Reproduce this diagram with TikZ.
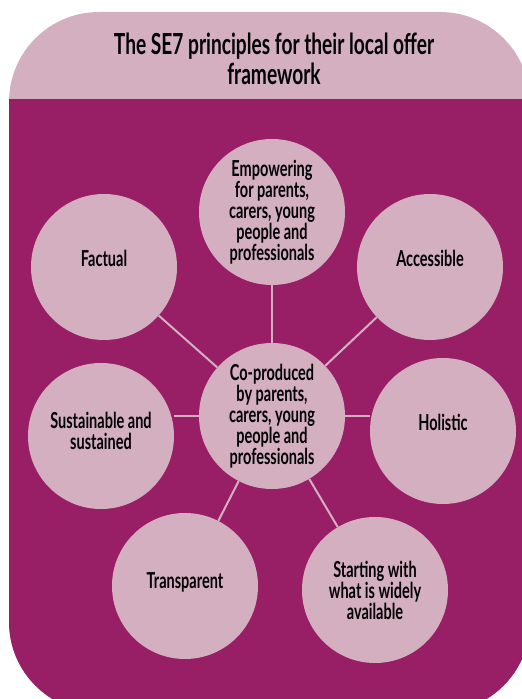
\documentclass[tikz,border=0pt]{standalone}
\usepackage{fontspec}
\setmainfont{Lato}[FakeStretch=0.66]
\usepackage{xcolor}
\usepackage{tikz}
\definecolor{sepink}{RGB}{211,175,192}
\definecolor{seplum}{RGB}{152,31,102}
\tikzset{
	principle/.style={circle,fill=sepink,minimum size=146pt,inner sep=0pt,align=center,font=\fontsize{22}{21}\selectfont\bfseries},
	lifted/.style={text depth=18pt},
	link/.style={draw=sepink,line width=2pt}
}

\begin{document}
\begin{tikzpicture}[x=1pt,y=1pt]
	\useasboundingbox (0,0) rectangle (522,699);
	\clip (0,0) rectangle (522,699);
	\fill[sepink,rounded corners=90pt] (9,-13) rectangle (530,687);
	\begin{scope}
		\clip (0,-20) rectangle (540,599);
		\fill[seplum,rounded corners=90pt] (9,-13) rectangle (530,687);
	\end{scope}
	\node[align=center,font=\fontsize{29}{30}\selectfont\bfseries] (title) at (274,640) {The SE7 principles for their local offer\\framework};
	\node[principle] (co) at (272,283) {Co-produced\\by parents,\\carers, young\\people and\\professionals};
	\node[principle] (emp) at (272,487) {Empowering\\for parents,\\carers, young\\people and\\professionals};
	\node[principle,lifted] (fac) at (104,432) {Factual};
	\node[principle,lifted] (acc) at (430,432) {Accessible};
	\node[principle,text depth=10pt] (sus) at (101,263) {Sustainable and\\sustained};
	\node[principle,lifted] (hol) at (443,268) {Holistic};
	\node[principle,text depth=10pt] (tra) at (185,113) {Transparent};
	\node[principle] (sta) at (375,109) {Starting with\\what is widely\\available};
	\foreach \p in {emp,fac,acc,tra,sta}
		\draw[link] (co) -- (\p);
	\draw[link] (co.west) -- (co.west -| sus.east);
	\draw[link] (co.east) -- (co.east -| hol.west);
\end{tikzpicture}
\end{document}
